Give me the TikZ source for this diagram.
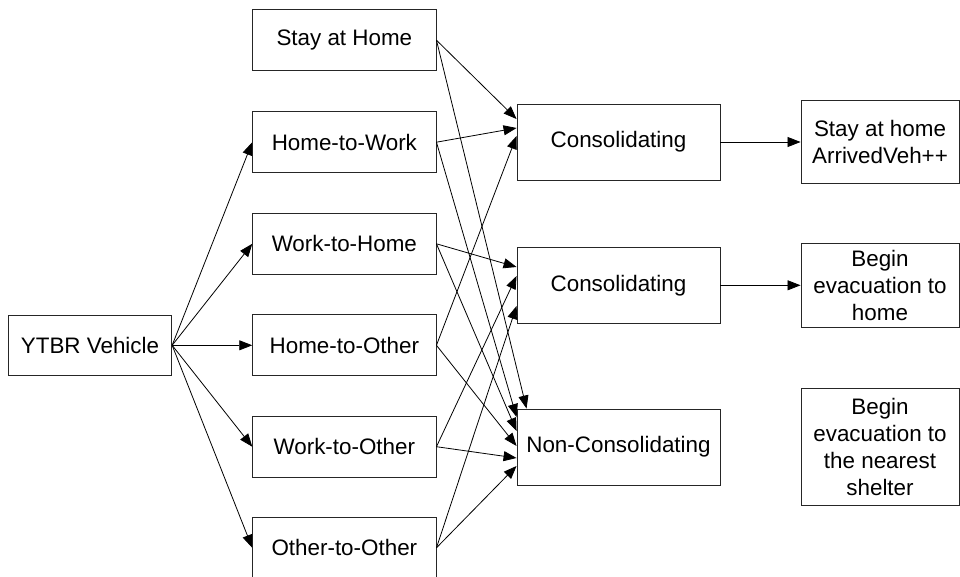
\documentclass[tikz,border=0pt]{standalone}
\usepackage{fontspec}
\setmainfont{Liberation Sans}
\usetikzlibrary{arrows.meta}
\begin{document}
\begin{tikzpicture}[x=1pt,y=-1pt,
  box/.style={draw=black!85, line width=0.9pt, fill=white, inner sep=0pt,
    font=\fontsize{22.4}{27}\selectfont, align=center},
  route/.style={box, minimum width=183.3pt, minimum height=61pt},
  midbox/.style={box, minimum width=203pt, minimum height=76pt},
  outbox/.style={box, minimum width=158pt},
  conn/.style={line width=0.8pt, draw=black, -{Triangle[length=13pt,width=10pt]}}
]
\useasboundingbox (0,0) rectangle (960,577);
\clip (0,0) rectangle (960,577);

% source
\node[box, minimum width=163.4pt, minimum height=60.7pt] (ytbr) at (90,345.3) {YTBR Vehicle};

% trip types
\node[route] (sah) at (344.35,40.2)  {Stay at Home};
\node[route] (htw) at (344.35,142.2) {Home-to-Work};
\node[route] (wth) at (344.35,243.8) {Work-to-Home};
\node[route] (hto) at (344.35,345.3) {Home-to-Other};
\node[route] (wto) at (344.35,446.7) {Work-to-Other};
\node[route] (oto) at (344.35,547.8) {Other-to-Other};

% categories
\node[midbox] (c1) at (618.5,142)   {Consolidating};
\node[midbox] (c2) at (618.5,285.3) {Consolidating};
\node[midbox] (nc) at (618.5,447)   {Non-Consolidating};

% outcomes
\node[outbox, minimum height=83.3pt] (r1) at (880,142) {Stay at home\\ArrivedVeh++};
\node[outbox, minimum height=84pt]   (r2) at (880,285.3) {Begin\\evacuation to\\home};
\node[outbox, minimum height=116.7pt] (r3) at (880,446.7) {Begin\\evacuation to\\the nearest\\shelter};

% source to trip types
\draw[conn] (ytbr.east) -- (htw.west);
\draw[conn] (ytbr.east) -- (wth.west);
\draw[conn] (ytbr.east) -- (hto.west);
\draw[conn] (ytbr.east) -- (wto.west);
\draw[conn] (ytbr.east) -- (oto.west);

% trip types to categories
\draw[conn] (sah.east) -- ([yshift=23pt]c1.west);
\draw[conn] (sah.east) -- ([xshift=10pt]nc.north west);
\draw[conn] (htw.east) -- ([yshift=14pt]c1.west);
\draw[conn] (htw.east) -- ([yshift=30pt]nc.west);
\draw[conn] (wth.east) -- ([yshift=18.3pt]c2.west);
\draw[conn] (wth.east) -- ([yshift=16pt]nc.west);
\draw[conn] (hto.east) -- ([yshift=6pt]c1.west);
\draw[conn] (hto.east) -- ([yshift=1pt]nc.west);
\draw[conn] (wto.east) -- ([yshift=9.3pt]c2.west);
\draw[conn] (wto.east) -- ([yshift=-11pt]nc.west);
\draw[conn] (oto.east) -- ([yshift=-20.7pt]c2.west);
\draw[conn] (oto.east) -- ([yshift=-19pt]nc.west);

% categories to outcomes
\draw[conn] (c1.east) -- (r1.west);
\draw[conn] (c2.east) -- (r2.west);
\end{tikzpicture}
\end{document}
